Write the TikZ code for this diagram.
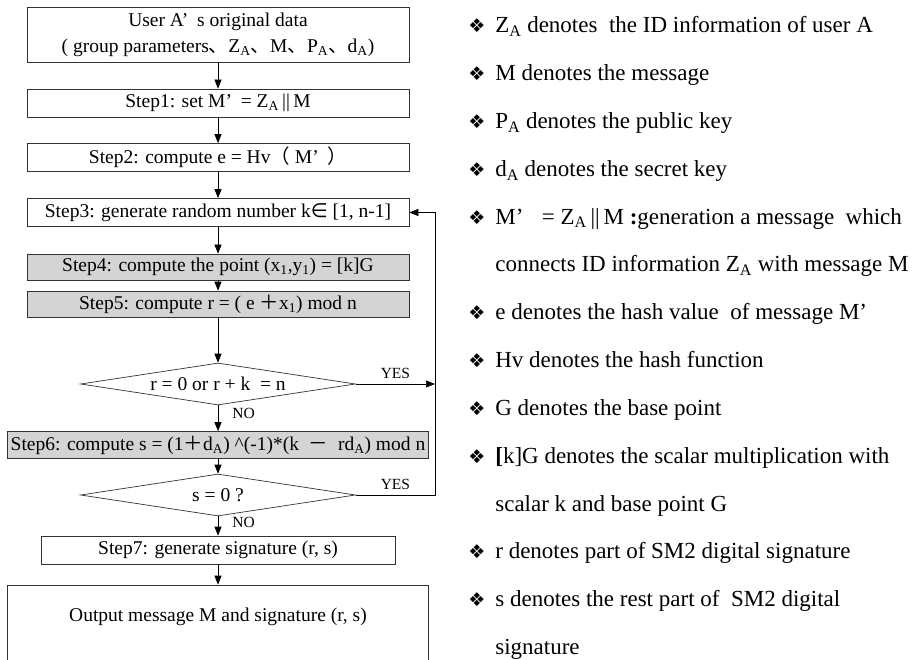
\documentclass[tikz,border=0pt]{standalone}
\usepackage{fontspec}
\setmainfont{Liberation Serif}
\newfontfamily\cjk{Noto Sans CJK SC}
\newfontfamily\dejavu{DejaVu Sans}
\usetikzlibrary{shapes.geometric,arrows.meta}
\newcommand{\ZA}{Z\textsubscript{A}}
\newcommand{\PA}{P\textsubscript{A}}
\newcommand{\dA}{d\textsubscript{A}}
\newcommand{\mpr}{’\hspace{0.45em}}
\newcommand{\dmd}{\makebox[27pt][l]{\dejavu\fontsize{19}{19}\selectfont ❖}}

\begin{document}
\begin{tikzpicture}[x=1pt,y=-1pt,line width=0.7pt,>={Triangle[length=9pt,width=7pt]},
    box/.style={draw=black!80, minimum width=382pt, minimum height=28pt, inner sep=0pt, font=\fontsize{19.5}{26}\selectfont},
    grey box/.style={box, fill=black!17},
    test/.style={draw=black!80, diamond, aspect=6, minimum width=275pt, minimum height=42pt, inner sep=0pt, font=\fontsize{19.5}{22}\selectfont},
    lbl/.style={inner sep=0pt, font=\fontsize{15.5}{16}\selectfont},
    note/.style={anchor=base west, inner sep=0pt, font=\fontsize{23}{24}\selectfont}]
    \useasboundingbox (0,0) rectangle (915,660);
    \fill[white] (0,0) rectangle (915,660);

    % flow chart
    \node[box, minimum height=55pt, align=center] (user) at (218,34.5) {User A\mpr s original data\\( group parameters{\cjk 、}\ZA{\cjk 、}M{\cjk 、}\PA{\cjk 、}\dA)};
    \node[box] (s1) at (218,103) {Step1: set M\mpr = \ZA\,||\,M};
    \node[box] (s2) at (218,157.5) {Step2: compute e = Hv{\cjk （} M\mpr{\cjk ）}};
    \node[box] (s3) at (218,212.5) {Step3: generate random number k{\dejavu ∈} [1, n-1]};
    \node[grey box, minimum height=26pt] (s4) at (218,267) {Step4: compute the point (x\textsubscript{1},y\textsubscript{1}) = [k]G};
    \node[grey box, minimum height=26pt] (s5) at (218,304) {Step5: compute r = ( e {\cjk ＋}x\textsubscript{1}) mod n};
    \node[test] (d1) at (218,384) {r = 0 or r + k \ = n};
    \node[grey box, minimum width=421pt, minimum height=27pt] (s6) at (218,445) {Step6: compute s = (1{\cjk ＋}\dA) \^{}(-1)*(k \ {\cjk －} \ r\dA) mod n};
    \node[test] (d2) at (218,495) {s = 0 ?};
    \node[box, minimum width=354pt] (s7) at (218,550) {Step7: generate signature (r, s)};
    \node[box, minimum width=421pt, minimum height=90pt, text depth=30pt] (out) at (218,630) {Output message M and signature (r, s)};
    \coordinate (rt) at (435,0);

    \draw[->] (user) -- (s1);
    \draw[->] (s1) -- (s2);
    \draw[->] (s2) -- (s3);
    \draw[->] (s3) -- (s4);
    \draw[->] (s4) -- (s5);
    \draw[->] (s5) -- (d1);
    \draw[->] (d1) -- node[lbl, pos=0.3, right=14pt] {NO} (s6);
    \draw[->] (d1.east) -- node[lbl, above=5pt] {YES} (d1.east -| rt);
    \draw[->] (s6) -- (d2);
    \draw[->] (d2.east) -- node[lbl, above=5pt] {YES} (d2.east -| rt) |- (s3);
    \draw[->] (d2) -- node[lbl, pos=0.3, right=14pt] {NO} (s7);
    \draw[->] (s7) -- (out);

    % notes
    \foreach \txt [count=\i from 0] in {
        \dmd\ZA{} denotes \ the ID information of user A,
        \dmd M denotes the message,
        \dmd\PA{} denotes the public key,
        \dmd\dA{} denotes the secret key,
        \dmd M’\hspace{0.8em}= \ZA\,||\,M \textbf{:}generation a message \ which,
        \hspace*{27pt}connects ID information \ZA{} with message M,
        \dmd e denotes the hash value \ of message M’,
        \dmd Hv denotes the hash function,
        \dmd G denotes the base point,
        \dmd\textbf{[}k]G denotes the scalar multiplication with,
        \hspace*{27pt}scalar k and base point G,
        \dmd r denotes part of SM2 digital signature,
        \dmd s denotes the rest part of \ SM2 digital,
        \hspace*{27pt}signature}
      \node[note] (note\i) at (468,33+47.8*\i) {\txt};
\end{tikzpicture}
\end{document}
